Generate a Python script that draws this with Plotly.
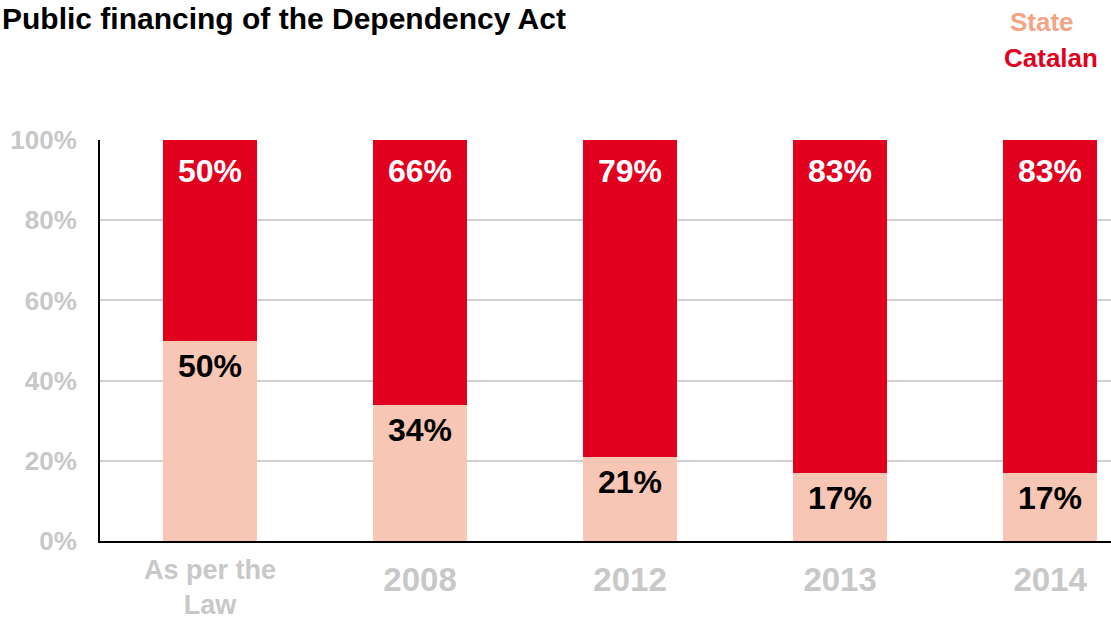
import plotly.graph_objects as go

categories = ["As per the Law", "2008", "2012", "2013", "2014"]
tick_labels = ["As per the<br>Law", "2008", "2012", "2013", "2014"]
state = [50, 34, 21, 17, 17]
catalan = [50, 66, 79, 83, 83]
y_ticks = [0, 20, 40, 60, 80, 100]

RED = "#e2001f"
PINK = "#f8c6b4"
STATE_TXT = "#f4a384"
GRAY = "#c8c8c8"
FONT = "Liberation Sans, Arial, sans-serif"

idx = list(range(len(categories)))

fig = go.Figure()
fig.add_bar(x=idx, y=state, name="State", marker=dict(color=PINK, line=dict(width=0)),
            width=0.448, hoverinfo="skip")
fig.add_bar(x=idx, y=catalan, name="Catalan", marker=dict(color=RED, line=dict(width=0)),
            width=0.448, hoverinfo="skip")

annotations = []
for i, s, k in zip(idx, state, catalan):
    annotations.append(dict(x=i, y=s + k, text=f"{k}%", showarrow=False, yanchor="top",
                            yshift=-11, font=dict(family=FONT, size=32, color="white", weight="bold")))
    annotations.append(dict(x=i, y=s, text=f"{s}%", showarrow=False, yanchor="top",
                            yshift=-5, font=dict(family=FONT, size=32, color="black", weight="bold")))

# first category label has two lines; drawn as annotation under its bar
annotations.append(dict(x=idx[0], y=0, text=tick_labels[0], showarrow=False, yanchor="top",
                        yshift=-12, font=dict(family=FONT, size=27, color=GRAY, weight="bold")))

annotations.append(dict(xref="paper", yref="paper", x=-100/1011, y=(640-18-99)/401,
                        xanchor="left", yanchor="middle", showarrow=False,
                        text="Public financing of the Dependency Act",
                        font=dict(family=FONT, size=30, color="black", weight="bold")))
annotations.append(dict(xref="paper", yref="paper", x=(1042-100)/1011, y=(640-22-99)/401,
                        xanchor="center", yanchor="middle", showarrow=False, text="State",
                        font=dict(family=FONT, size=26, color=STATE_TXT, weight="bold")))
annotations.append(dict(xref="paper", yref="paper", x=(1051-100)/1011, y=(640-58-99)/401,
                        xanchor="center", yanchor="middle", showarrow=False, text="Catalan",
                        font=dict(family=FONT, size=26, color=RED, weight="bold")))

fig.update_layout(
    barmode="stack",
    width=1111, height=640,
    margin=dict(l=100, r=0, t=140, b=99),
    paper_bgcolor="white", plot_bgcolor="white",
    showlegend=False,
    annotations=annotations,
    xaxis=dict(range=[-0.524, 4.29], tickvals=idx, ticktext=[""] + tick_labels[1:],
               tickfont=dict(family=FONT, size=33, color=GRAY, weight="bold"),
               showline=True, linecolor="black", linewidth=2, layer="below traces",
               showgrid=False, zeroline=False, ticks="", ticklabelstandoff=8),
    yaxis=dict(range=[0, 100], tickvals=y_ticks, ticktext=[f"{v}%" for v in y_ticks],
               tickfont=dict(family=FONT, size=26, color=GRAY, weight="bold"),
               showline=True, linecolor="black", linewidth=2, layer="below traces",
               showgrid=True, gridcolor="#cfcfcf", gridwidth=2, zeroline=False,
               ticks="", ticklabelstandoff=16),
)

fig.write_html("out.html")
